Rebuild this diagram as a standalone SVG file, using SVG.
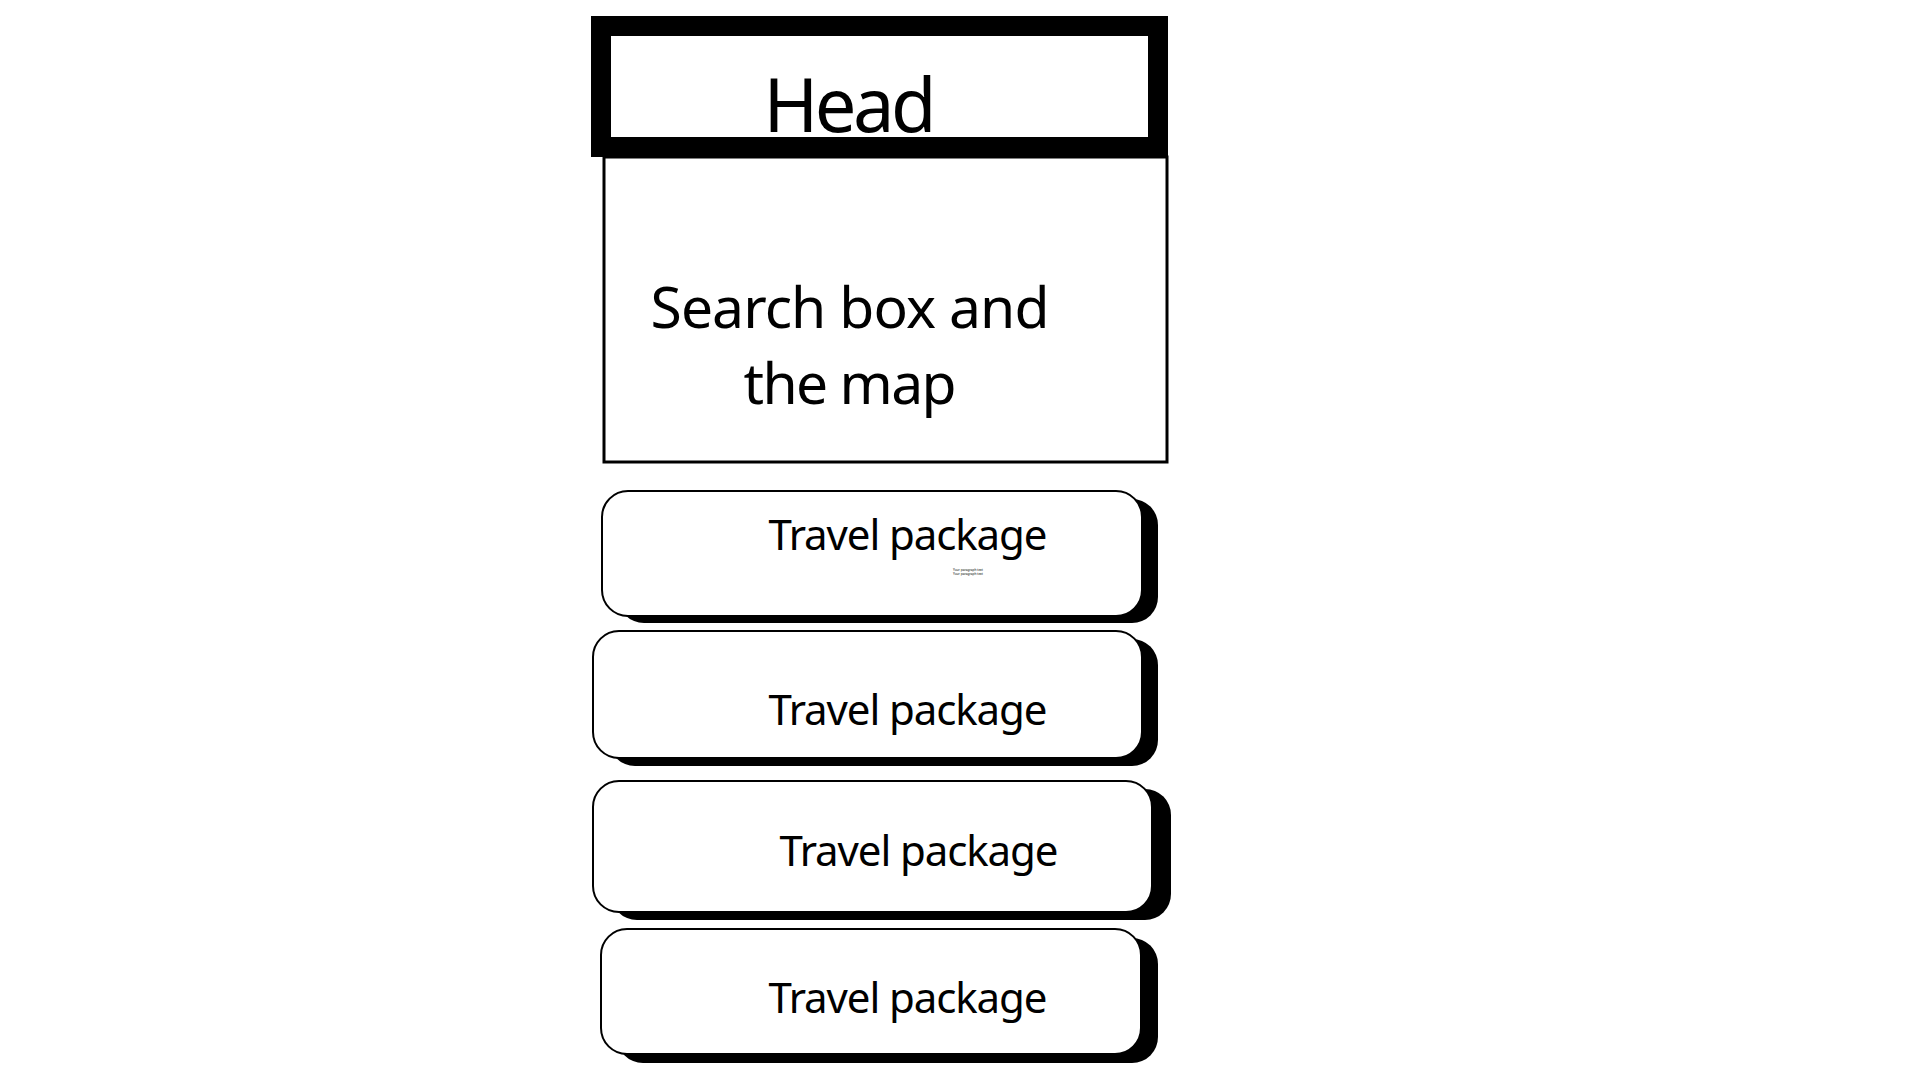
<svg xmlns="http://www.w3.org/2000/svg" width="1920" height="1080" viewBox="0 0 1920 1080">
<style>
.t{font-family:"Noto Sans","Liberation Sans",sans-serif;fill:#000}
.card{fill:#fff;stroke:#000;stroke-width:2}
.shadow{fill:#000}
</style>
<rect x="0" y="0" width="1920" height="1080" fill="#fff"/>
<g id="search">
<rect x="604" y="157" width="563" height="305" fill="#fff" stroke="#000" stroke-width="3"/>
<text class="t" x="850" y="328" font-size="57" text-anchor="middle" textLength="399">Search box and</text>
<text class="t" x="850" y="404" font-size="57" text-anchor="middle" textLength="213">the map</text>
</g>
<g id="head">
<rect x="601" y="26" width="557" height="121" fill="#fff" stroke="#000" stroke-width="20"/>
<text class="t" x="850" y="132" font-size="74" text-anchor="middle" textLength="173">Head</text>
</g>
<g id="package1">
<rect class="shadow" x="618" y="499" width="540" height="124" rx="26"/>
<rect class="card" x="602" y="491" width="540" height="125" rx="26"/>
<text class="t" x="908" y="550" font-size="42" text-anchor="middle" textLength="279">Travel package</text>
<text class="t" x="953" y="571" font-size="3.2">Your paragraph text</text>
<text class="t" x="953" y="575" font-size="3.2">Your paragraph text</text>
</g>
<g id="package2">
<rect class="shadow" x="609" y="639" width="549" height="127" rx="26"/>
<rect class="card" x="593" y="631" width="549" height="127" rx="26"/>
<text class="t" x="908" y="725" font-size="42" text-anchor="middle" textLength="279">Travel package</text>
</g>
<g id="package3">
<rect class="shadow" x="611" y="789" width="560" height="131" rx="26"/>
<rect class="card" x="593" y="781" width="559" height="131" rx="26"/>
<text class="t" x="919" y="866" font-size="42" text-anchor="middle" textLength="279">Travel package</text>
</g>
<g id="package4">
<rect class="shadow" x="617" y="938" width="541" height="125" rx="26"/>
<rect class="card" x="601" y="929" width="540" height="125" rx="26"/>
<text class="t" x="908" y="1013" font-size="42" text-anchor="middle" textLength="279">Travel package</text>
</g>
<g id="connectors"></g>
</svg>
